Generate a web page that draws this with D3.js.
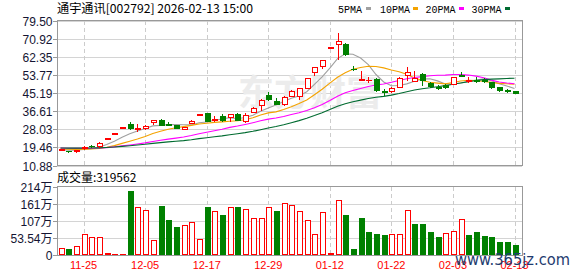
<!DOCTYPE html>
<html><head><meta charset="utf-8">
<script src="https://cdn.jsdelivr.net/npm/d3@7"></script>
<style>html,body{margin:0;padding:0;background:#fff;}svg{display:block;}</style>
</head><body>
<svg id="c" width="578" height="276"></svg>
<script>
// ---------------- data ----------------
const dates = ["11-20","11-21","11-24","11-25","11-26","11-27","11-28","12-01","12-02","12-03",
"12-04","12-05","12-08","12-09","12-10","12-11","12-12","12-15","12-16","12-17",
"12-18","12-19","12-22","12-23","12-24","12-25","12-26","12-29","12-30","12-31",
"01-05","01-06","01-07","01-08","01-09","01-12","01-13","01-14","01-15","01-16",
"01-19","01-20","01-21","01-22","01-23","01-26","01-27","01-28","01-29","01-30",
"02-02","02-03","02-04","02-05","02-06","02-09","02-10","02-11","02-12","02-13"];
const open  = [18.35,17.8,17.65,19.1,20.3,20.1,23.98,26.38,29.02,30.75,
28.4,28.6,31.37,32.4,30.5,30.0,28.24,31.08,35.39,35.6,
32.31,34.54,33.73,35.48,31.84,36.43,39.74,44.14,41.64,40.22,
44.0,43.67,47.65,55.5,58.34,67.14,68.61,68.47,56.9,51.7,
51.4,52.05,46.2,46.2,48.3,54.08,51.1,54.4,50.01,48.2,
49.2,49.6,53.94,50.8,51.6,51.3,50.3,48.1,46.8,46.2];
const high  = [18.6,17.9,18.4,20.2,20.6,21.9,23.98,26.38,29.02,31.7,
30.7,29.9,32.6,33.0,31.7,30.2,29.3,32.3,35.39,35.9,
34.54,35.3,35.5,35.8,35.8,38.5,42.3,46.0,42.9,44.0,
46.5,47.8,52.5,57.8,61.2,67.14,73.85,68.9,57.9,55.8,
53.1,52.3,47.3,48.0,52.9,57.6,55.98,54.6,50.3,48.9,
49.5,53.0,55.5,52.7,53.1,52.3,50.5,48.3,47.2,46.4];
const low   = [18.3,17.3,17.5,18.9,19.8,19.9,23.98,26.38,29.02,28.3,
27.1,28.1,30.4,30.1,29.9,28.7,28.1,30.9,35.39,31.8,
32.2,31.8,31.84,32.3,31.4,36.3,37.4,42.1,39.9,39.74,
43.8,42.6,47.5,53.94,57.1,67.14,61.37,63.5,56.3,51.5,
50.3,46.3,44.5,45.9,48.0,51.6,50.9,49.2,48.2,47.3,
47.8,49.4,53.3,50.6,50.3,50.5,47.6,46.3,45.6,45.1];
const close = [18.5,17.6,18.3,19.9,20.1,21.8,23.98,26.38,29.02,28.53,
28.6,29.8,32.5,30.3,30.2,28.9,29.19,32.17,35.39,32.1,
32.97,32.31,35.34,32.64,35.01,38.32,42.11,42.58,40.07,43.2,
46.2,47.65,52.38,57.59,61.04,67.14,70.03,63.74,56.7,51.9,
51.6,46.51,46.0,47.8,52.6,55.36,52.66,51.3,48.4,47.6,
48.0,52.85,53.47,51.7,51.1,50.9,48.3,46.5,46.4,45.28];
// closes before the first visible day (needed for the moving averages)
const priorClose = [19.0,19.3,19.1,19.4,19.2,19.0,19.3,19.5,19.2,19.1,
19.6,19.8,19.5,19.7,19.9,19.6,19.4,19.7,19.5,19.3,
19.4,19.2,19.0,19.1,19.2,18.6,18.4,18.3,18.2];
const volume = [211000,189000,283000,652000,567000,567000,54000,22000,22000,2015000,
1502000,1417000,463000,1543000,1102000,882000,935000,1030000,504000,1512000,
1386000,1260000,1502000,1512000,1449000,1156000,1156000,1502000,1386000,1628000,
1560000,1376000,1102000,661000,1345000,54000,1732000,1260000,189000,1175000,
734000,661000,630000,661000,661000,1417000,976000,976000,734000,576000,
683000,756000,1134000,630000,734000,608000,576000,419000,419000,319562];
const priceTicks = [79.50,70.92,62.35,53.77,45.19,36.61,28.03,19.46,10.88];
const volTickValues = [2141600,1606200,1070800,535400,0];
const volTickLabels = ["214万","161万","107万","53.54万","0"];
const dateTicks = ["11-25","12-05","12-17","12-29","01-12","01-22","02-03","02-13"];
const maPeriods = [5,10,20,30];
const maNames = ["5PMA","10PMA","20PMA","30PMA"];
const titleText = "通宇通讯[002792] 2026-02-13 15:00";

// ---------------- layout ----------------
const L=57, R=522, T=21, B=165.5, VT=187, VB=255;
const RED="#ff0000", GREEN="#008000";
const maColors = ["#a0a0a0","#f4a300","#ff00ff","#006b30"];
const svg=d3.select("#c");
const x=d3.scalePoint().domain(dates).range([60.5,514.5]);
const y=d3.scaleLinear().domain([10.88,79.5]).range([B,T]);
const yv=d3.scaleLinear().domain([0,2141600]).range([VB,VT]);
const px = v => Math.round(v)+0.5;
const cxOf = d => Math.round(x(d));

// grid - horizontal
const g=svg.append("g").attr("shape-rendering","crispEdges");
priceTicks.forEach(v=>{
  g.append("line").attr("x1",L).attr("x2",R).attr("y1",px(y(v))).attr("y2",px(y(v)))
   .attr("stroke","#d4d4d4");
});
volTickValues.slice(1,4).forEach(v=>{
  g.append("line").attr("x1",L).attr("x2",R).attr("y1",px(yv(v))).attr("y2",px(yv(v)))
   .attr("stroke","#d4d4d4");
});
// vertical dashed
dateTicks.forEach(d=>{
  const xx=cxOf(d)+0.5;
  g.append("line").attr("x1",xx).attr("x2",xx).attr("y1",T).attr("y2",B)
   .attr("stroke","#cccccc").attr("stroke-dasharray","4,3");
  g.append("line").attr("x1",xx).attr("x2",xx).attr("y1",VT).attr("y2",VB)
   .attr("stroke","#cccccc").attr("stroke-dasharray","4,3");
});

// faint watermark in main panel
svg.append("text").attr("x",238).attr("y",106).text("东方财富")
  .attr("font-family","Noto Sans CJK SC").attr("font-weight","bold")
  .attr("font-size",36).attr("fill","#ececec");

// borders
const bd=svg.append("g").attr("shape-rendering","crispEdges").attr("stroke","#999").attr("fill","none");
bd.append("rect").attr("x",L+0.5).attr("y",T-0.5).attr("width",R-L).attr("height",B-T+0.5);
bd.append("rect").attr("x",L+0.5).attr("y",VT-0.5).attr("width",R-L).attr("height",VB-VT+0.5);

// moving averages
const allClose = priorClose.concat(close);
const ma = n => close.map((c,i)=>{const j=i+priorClose.length; return d3.mean(allClose.slice(j-n+1,j+1));});
const line=d3.line().x((d,i)=>x(dates[i])).y(d=>y(d));
maPeriods.forEach((n,k)=>{
  svg.append("path").datum(ma(n)).attr("d",line).attr("fill","none")
    .attr("stroke",maColors[k]).attr("stroke-width",1.1);
});

// candles
const cg=svg.append("g").attr("shape-rendering","crispEdges");
dates.forEach((d,i)=>{
  const cx=cxOf(d), o=open[i], c=close[i], h=high[i], l=low[i];
  const col = c>o ? RED : (c<o ? GREEN : (i>0 && c<close[i-1] ? GREEN : RED));
  if (h>l) cg.append("line").attr("x1",cx+0.5).attr("x2",cx+0.5)
      .attr("y1",Math.round(y(h))).attr("y2",Math.round(y(l))+1).attr("stroke",col);
  const yt=Math.round(y(Math.max(o,c))), yb=Math.round(y(Math.min(o,c)));
  if (yb-yt<1) {
    cg.append("rect").attr("x",cx-2).attr("y",yt).attr("width",6).attr("height",h===l?2:1).attr("fill",col);
  } else if (c>o) {
    cg.append("rect").attr("x",cx-2+0.5).attr("y",yt+0.5).attr("width",5).attr("height",yb-yt)
      .attr("fill","#fff").attr("stroke",RED);
  } else {
    cg.append("rect").attr("x",cx-2).attr("y",yt).attr("width",6).attr("height",yb-yt+1).attr("fill",GREEN);
  }
});

// volume bars (colour by close vs previous close)
const vg=svg.append("g").attr("shape-rendering","crispEdges");
dates.forEach((d,i)=>{
  const cx=cxOf(d);
  const prev = i>0 ? close[i-1] : priorClose[priorClose.length-1];
  const up = close[i]>=prev;
  const yt=Math.round(yv(volume[i]));
  const hgt=VB-yt;
  if (up) {
    if (hgt<=3) vg.append("rect").attr("x",cx-2).attr("y",yt).attr("width",6).attr("height",Math.max(hgt,1)).attr("fill",RED);
    else vg.append("rect").attr("x",cx-2+0.5).attr("y",yt+0.5).attr("width",5).attr("height",hgt-1)
      .attr("fill","#fff").attr("stroke",RED);
  } else {
    vg.append("rect").attr("x",cx-2).attr("y",yt).attr("width",6).attr("height",hgt).attr("fill",GREEN);
  }
});

// axes labels
const axisFont="Liberation Sans, Arial, Noto Sans CJK SC, sans-serif";
const ag=svg.append("g");
priceTicks.forEach(v=>{
  const yy=px(y(v));
  ag.append("line").attr("x1",53).attr("x2",L).attr("y1",yy).attr("y2",yy).attr("stroke","#999").attr("shape-rendering","crispEdges");
  ag.append("text").attr("x",52.5).attr("y",yy+4.5).attr("text-anchor","end")
    .attr("font-family",axisFont).attr("font-size",12).attr("fill","#141432").text(v.toFixed(2));
});
volTickValues.forEach((v,k)=>{
  const yy=px(yv(v));
  ag.append("line").attr("x1",53).attr("x2",L).attr("y1",yy).attr("y2",yy).attr("stroke","#999").attr("shape-rendering","crispEdges");
  ag.append("text").attr("x",52.5).attr("y",yy+4.5).attr("text-anchor","end")
    .attr("font-family",axisFont).attr("font-size",12).attr("fill","#141432").text(volTickLabels[k]);
});
dateTicks.forEach(d=>{
  ag.append("text").attr("x",x(d)).attr("y",269).attr("text-anchor","middle")
    .attr("font-family",axisFont).attr("font-size",11).attr("fill",RED).text(d);
});

// title and legend
svg.append("text").attr("x",57).attr("y",13).attr("font-family","Noto Sans CJK SC, sans-serif")
  .attr("font-size",12).attr("fill","#000").attr("textLength",196).attr("lengthAdjust","spacingAndGlyphs").text(titleText);
const legX=[338,380,425.5,471.5], legW=[24,30,30,30], sqX=[366,413,459,505];
maNames.forEach((nm,k)=>{
  svg.append("text").attr("x",legX[k]).attr("y",12.5).attr("font-family","Liberation Mono, monospace")
    .attr("font-size",11).attr("fill","#000").attr("textLength",legW[k]).attr("lengthAdjust","spacingAndGlyphs").text(nm);
  svg.append("rect").attr("x",sqX[k]).attr("y",7).attr("width",5).attr("height",3).attr("fill",maColors[k]);
});
svg.append("text").attr("x",57).attr("y",181.5).attr("font-family","Noto Sans CJK SC, sans-serif")
  .attr("font-size",12).attr("fill","#000").text("成交量:"+volume[volume.length-1]);

// site watermark
svg.append("text").attr("x",455).attr("y",264.5).attr("font-family","DejaVu Sans, sans-serif")
  .attr("font-size",15).attr("fill","#1f3c70").attr("textLength",115).attr("lengthAdjust","spacingAndGlyphs").text("www.365jz.com");
</script>
</body></html>
